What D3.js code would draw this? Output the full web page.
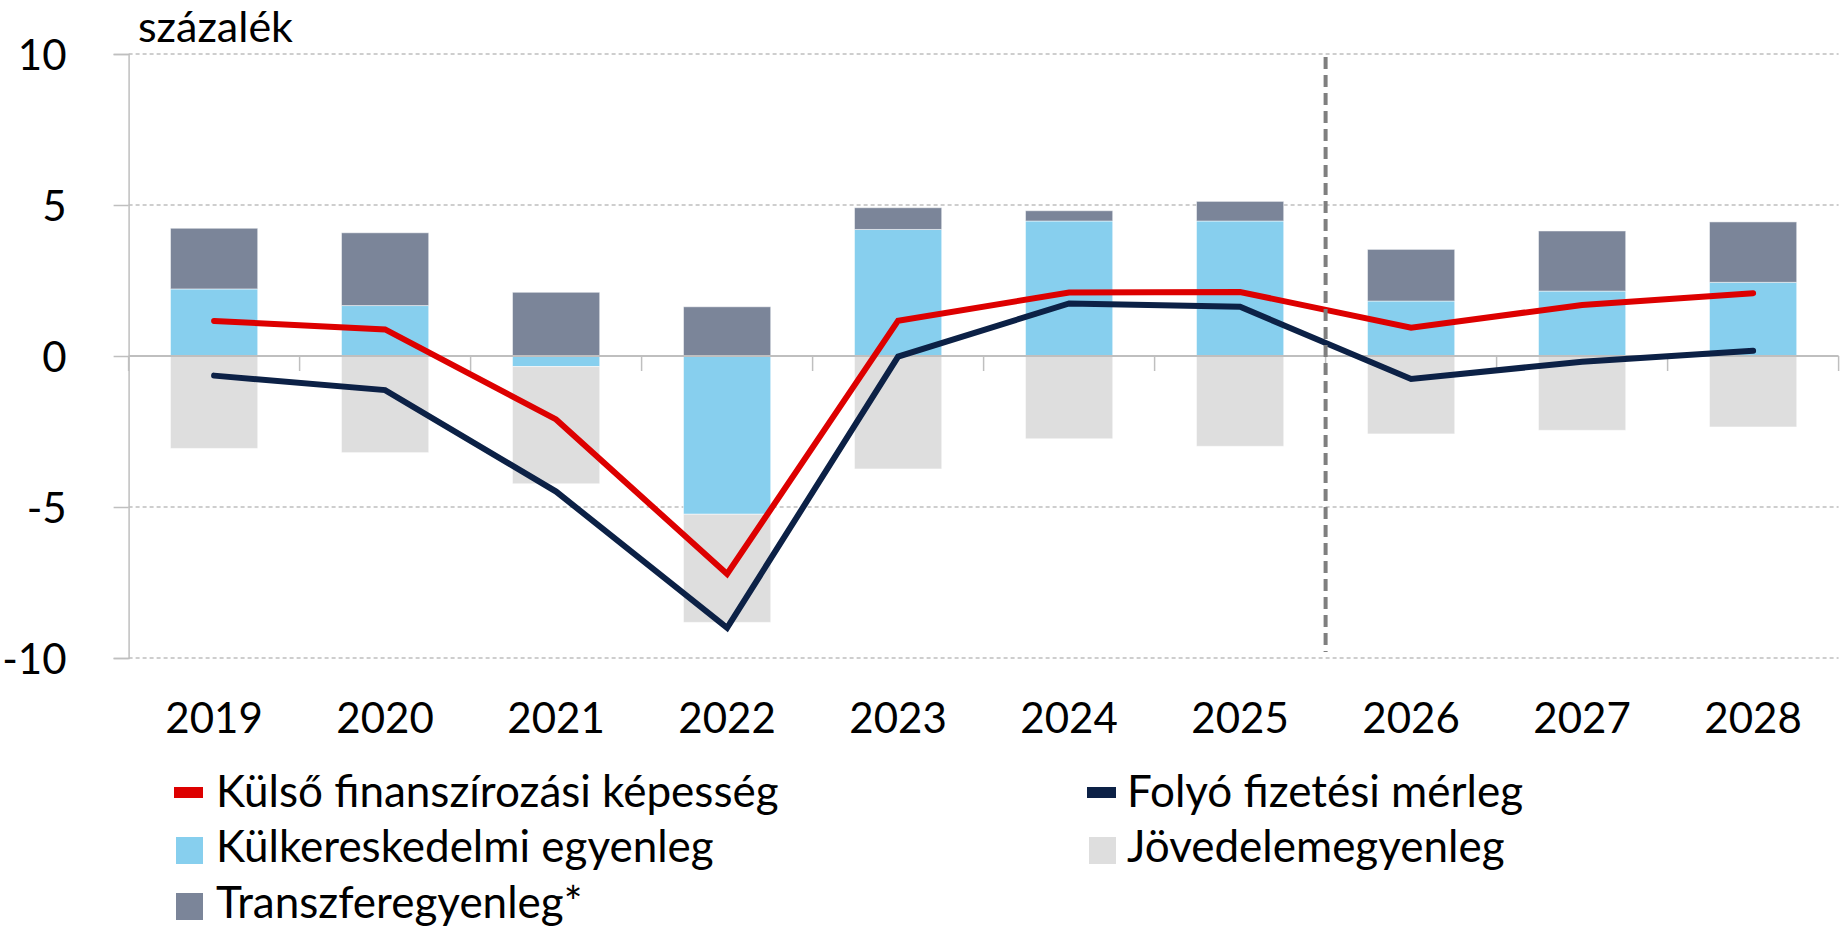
<!DOCTYPE html>
<html>
<head>
<meta charset="utf-8">
<script src="https://cdn.jsdelivr.net/npm/d3@7"></script>
<style>
	body { margin: 0; background: #fff; }
	svg text { font-family: Lato, "Open Sans", sans-serif; fill: #000; }
</style>
</head>
<body>
<svg class="svgGlobal" width="1841" height="931"></svg>
<script>
var years = ["2019","2020","2021","2022","2023","2024","2025","2026","2027","2028"];
var yTicks = [-10, -5, 0, 5, 10];
// bars, % of GDP
var tradeBalance = [2.22, 1.67, -0.35, -5.24, 4.19, 4.47, 4.47, 1.82, 2.15, 2.44];
var incomeBalance = [-3.06, -3.20, -3.88, -3.58, -3.74, -2.74, -2.99, -2.58, -2.46, -2.35];
var transferBalance = [2.01, 2.41, 2.11, 1.63, 0.72, 0.34, 0.65, 1.71, 1.99, 2.00];
// lines
var externalFinancing = [1.16, 0.88, -2.10, -7.22, 1.17, 2.10, 2.12, 0.94, 1.69, 2.08];
var currentAccount = [-0.65, -1.13, -4.49, -9.00, -0.02, 1.74, 1.63, -0.76, -0.19, 0.17];
var forecastFrom = "2026";

function drawChart() {
	var svgGlobal = d3.select(".svgGlobal");
	var colors = {trade: "#87CFEE", income: "#DEDEDE", transfer: "#7B8599", red: "#DD0000", navy: "#0C2146"};
	var plotLeft = 128.6, plotRight = 1838.6, plotTop = 54, plotBottom = 658;

	var x = d3.scaleBand()
			.domain(years)
			.range([plotLeft, plotRight])
			.paddingInner(0.49)
			.paddingOuter(0.245);
	var y = d3.scaleLinear()
			.domain([-10, 10])
			.range([plotBottom, plotTop]);
	var step = x.step();

	var rows = years.map(function(yr, i) {
		return {year: yr, trade: tradeBalance[i], income: incomeBalance[i], transfer: transferBalance[i]};
	});
	var series = d3.stack()
			.keys(["trade", "income", "transfer"])
			.offset(d3.stackOffsetDiverging)(rows);

	// grid
	svgGlobal.append("g").selectAll("line")
		.data(yTicks.filter(function(t) { return t != 0; }))
		.enter().append("line")
		.attr("x1", plotLeft).attr("x2", plotRight)
		.attr("y1", function(d) { return y(d); })
		.attr("y2", function(d) { return y(d); })
		.attr("stroke", "#BFBFBF")
		.attr("stroke-width", 1.5)
		.attr("stroke-dasharray", "4,3");

	// y axis (plain hyphen for negatives, like the original)
	var ya = svgGlobal.append("g")
		.attr("transform", "translate(" + plotLeft + ",0)")
		.call(d3.axisLeft(y).tickValues(yTicks).tickSize(15).tickPadding(47)
			.tickFormat(function(d) { return String(d); }));
	ya.select(".domain").attr("stroke", "#BFBFBF").attr("stroke-width", 1.5);
	ya.selectAll(".tick line").attr("stroke", "#BFBFBF").attr("stroke-width", 1.5);
	ya.selectAll(".tick text")
		.style("font-size", "42px")
		.attr("dy", "0.36em");

	svgGlobal.append("text")
		.attr("x", 138)
		.attr("y", 42)
		.style("font-size", "43px")
		.text("százalék");

	// stacked bars
	svgGlobal.append("g").selectAll("g")
		.data(series)
		.enter().append("g")
		.attr("fill", function(d) { return colors[d.key]; })
		.selectAll("rect")
		.data(function(d) { return d; })
		.enter().append("rect")
		.attr("x", function(d) { return x(d.data.year); })
		.attr("width", x.bandwidth())
		.attr("y", function(d) { return y(Math.max(d[0], d[1])); })
		.attr("height", function(d) { return Math.abs(y(d[0]) - y(d[1])); })
		.attr("stroke", "#fff")
		.attr("stroke-opacity", 0.5)
		.attr("stroke-width", 1);

	// x axis at zero
	var xa = svgGlobal.append("g");
	xa.append("line")
		.attr("x1", plotLeft).attr("x2", plotRight)
		.attr("y1", y(0)).attr("y2", y(0))
		.attr("stroke", "#BFBFBF")
		.attr("stroke-width", 2);
	xa.selectAll(".cat-tick")
		.data(d3.range(years.length + 1))
		.enter().append("line")
		.attr("class", "cat-tick")
		.attr("x1", function(d) { return plotLeft + d * step; })
		.attr("x2", function(d) { return plotLeft + d * step; })
		.attr("y1", y(0))
		.attr("y2", y(0) + 15)
		.attr("stroke", "#BFBFBF")
		.attr("stroke-width", 1.5);
	svgGlobal.append("g").selectAll("text")
		.data(years)
		.enter().append("text")
		.attr("x", function(d) { return x(d) + x.bandwidth() / 2; })
		.attr("y", 733)
		.attr("text-anchor", "middle")
		.style("font-size", "42px")
		.text(function(d) { return d; });

	// lines
	var line = d3.line()
		.x(function(d, i) { return x(years[i]) + x.bandwidth() / 2; })
		.y(function(d) { return y(d); });
	svgGlobal.append("path")
		.datum(externalFinancing)
		.attr("d", line)
		.attr("fill", "none")
		.attr("stroke", colors.red)
		.attr("stroke-width", 6)
		.attr("stroke-linecap", "round");
	svgGlobal.append("path")
		.datum(currentAccount)
		.attr("d", line)
		.attr("fill", "none")
		.attr("stroke", colors.navy)
		.attr("stroke-width", 6)
		.attr("stroke-linecap", "round");

	// forecast separator
	var sepX = x(forecastFrom) - (step - x.bandwidth()) / 2;
	svgGlobal.append("line")
		.attr("x1", sepX).attr("x2", sepX)
		.attr("y1", y(9.9)).attr("y2", y(-9.8))
		.attr("stroke", "#7F7F7F")
		.attr("stroke-width", 4)
		.attr("stroke-dasharray", "12,6");

	// legend
	var legendItems = [
		{label: "Külső finanszírozási képesség", color: colors.red, type: "line", col: 0, row: 0},
		{label: "Folyó fizetési mérleg", color: colors.navy, type: "line", col: 1, row: 0},
		{label: "Külkereskedelmi egyenleg", color: colors.trade, type: "box", col: 0, row: 1},
		{label: "Jövedelemegyenleg", color: colors.income, type: "box", col: 1, row: 1},
		{label: "Transzferegyenleg*", color: colors.transfer, type: "box", col: 0, row: 2}
	];
	var colX = [174, 1087], rowY = [807, 862, 918];
	var leg = svgGlobal.append("g").selectAll("g")
		.data(legendItems)
		.enter().append("g")
		.attr("transform", function(d) { return "translate(" + colX[d.col] + "," + rowY[d.row] + ")"; });
	leg.append("rect")
		.attr("x", function(d) { return d.type == "line" ? 0 : 2; })
		.attr("y", function(d) { return d.type == "line" ? -20 : -25; })
		.attr("width", function(d) { return d.type == "line" ? 29 : 27; })
		.attr("height", function(d) { return d.type == "line" ? 11 : 27; })
		.attr("fill", function(d) { return d.color; });
	leg.append("text")
		.attr("x", function(d) { return d.col == 0 ? 42 : 40; })
		.attr("y", 0)
		.style("font-size", "44px")
		.text(function(d) { return d.label; });
}

drawChart();
</script>
</body>
</html>
